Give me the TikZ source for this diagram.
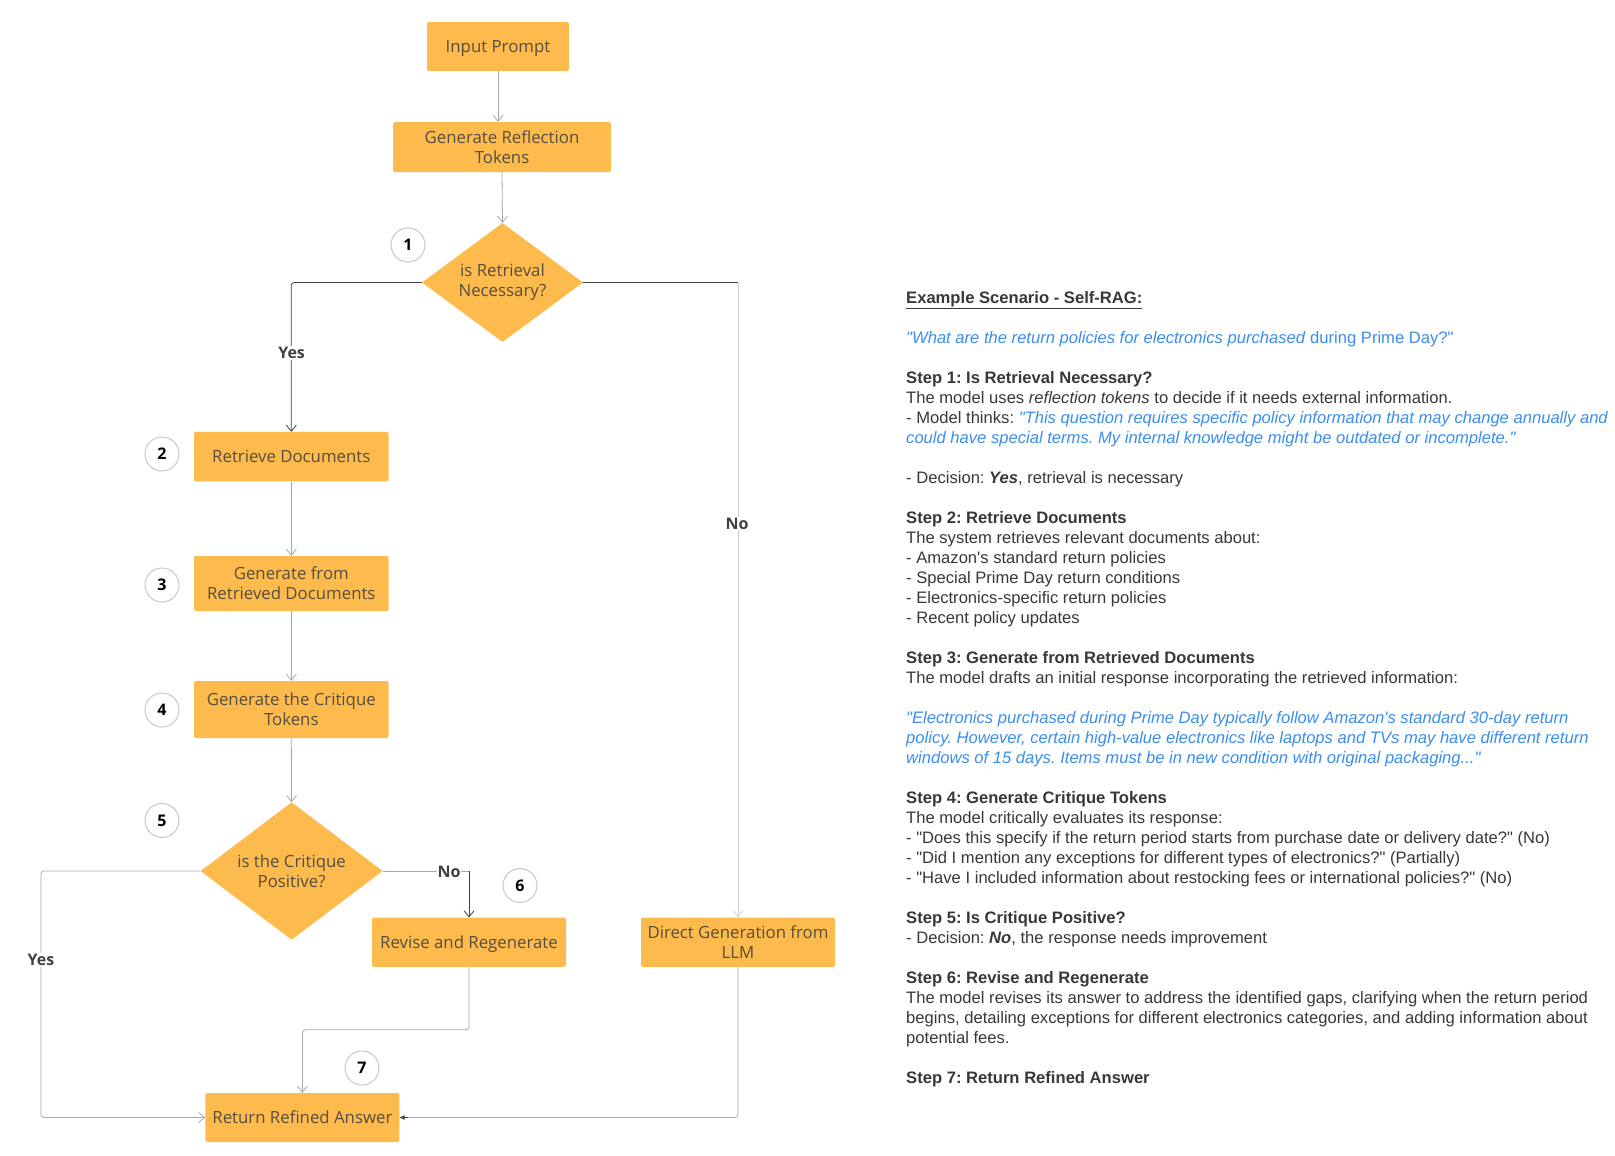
\documentclass[tikz,border=0pt]{standalone}
\usepackage{fontspec}
\setmainfont{Liberation Sans}[Ligatures=TeXOff]
\newfontfamily\flowfont{Open Sans}
\usetikzlibrary{shapes.geometric,arrows.meta}
\definecolor{boxorange}{HTML}{FDBB4E}
\definecolor{boxtext}{HTML}{574D3C}
\definecolor{linegray}{HTML}{A8A8A8}
\definecolor{lightline}{HTML}{D0D0D0}
\definecolor{linedark}{HTML}{404040}
\definecolor{numgray}{HTML}{C8C8C8}
\definecolor{quoteblue}{HTML}{3B8EEA}
\definecolor{bodytext}{HTML}{383838}
\frenchspacing
\begin{document}
\begin{tikzpicture}[x=1pt,y=-1pt,
  proc/.style={rectangle, rounded corners=2pt, fill=boxorange, text=boxtext,
    font=\flowfont\fontsize{16.8}{20}\selectfont, align=center, inner sep=0pt},
  oneline/.style={text height=11.5pt, text depth=0pt},
  decision/.style={diamond, fill=boxorange, inner sep=0pt},
  dtext/.style={text=boxtext, font=\flowfont\fontsize{16.8}{20}\selectfont, align=center, inner sep=0pt},
  num/.style={circle, draw=numgray, fill=white, line width=1pt, minimum size=34pt, inner sep=0pt,
    font=\flowfont\bfseries\fontsize{16}{16}\selectfont},
  lbl/.style={fill=white, inner sep=1pt, text=linedark, font=\flowfont\bfseries\fontsize{16}{16}\selectfont},
  conn/.style={draw=linegray, line width=0.8pt, rounded corners=3pt},
  tip/.style={-{Straight Barb[length=6pt,width=10pt]}},
  filltip/.style={-{Latex[length=5pt,width=5pt]}}
]
\fill[white] (0,0) rectangle (1615,1156);
\useasboundingbox (0,0) rectangle (1615,1156);

% process boxes
\node[proc, oneline, minimum width=142pt, minimum height=49pt] (ip) at (498,46.5) {Input Prompt};
\node[proc, minimum width=218pt, minimum height=50pt] (grt) at (502,147) {Generate Reflection\\Tokens};
\node[decision, minimum width=161pt, minimum height=119pt] (d1) at (502.5,282.5) {};
\node[dtext] (d1t) at (d1) {is Retrieval\\Necessary?};
\node[proc, oneline, minimum width=194.6pt, minimum height=49.5pt] (rd) at (291.3,456.7) {Retrieve Documents};
\node[proc, minimum width=194.6pt, minimum height=55pt] (gfr) at (291.3,583.5) {Generate from\\Retrieved Documents};
\node[proc, minimum width=194.6pt, minimum height=57pt] (gct) at (291.3,709.5) {Generate the Critique\\Tokens};
\node[decision, minimum width=182pt, minimum height=137.5pt] (d2) at (291.6,871) {};
\node[dtext] (d2t) at (d2) {is the Critique\\Positive?};
\node[proc, oneline, minimum width=194pt, minimum height=49.3pt] (rr) at (469,942.3) {Revise and Regenerate};
\node[proc, minimum width=194pt, minimum height=49.3pt] (dg) at (738,942.3) {Direct Generation from\\LLM};
\node[proc, oneline, minimum width=194pt, minimum height=49pt] (rra) at (302.4,1117.5) {Return Refined Answer};

% number circles
\node[num] (n1) at (408,245) {1};
\node[num] (n2) at (162,454) {2};
\node[num] (n3) at (162,585) {3};
\node[num] (n4) at (162,710) {4};
\node[num] (n5) at (162,820.5) {5};
\node[num] (n6) at (520,885.5) {6};
\node[num] (n7) at (362,1068) {7};

% helper coordinates
\coordinate (c1r) at (dg.north |- d1.east);
\coordinate (c2l) at (41,871);
\coordinate (c2b) at (41,1117.5);
\coordinate (c6) at (rr.north |- d2.east);
\coordinate (c7a) at (469,1029.8);
\coordinate (c7b) at (302.4,1029.8);
\coordinate (cdg) at (dg.south |- rra.east);

% connectors
\draw[conn, tip] (ip.south) -- (ip.south |- grt.north);
\draw[conn, tip] (grt.south) -- (d1.north);
\draw[conn, draw=linedark, tip] (d1.west) -| (rd.north);
\draw[conn, draw=linedark] (d1.east) -- (c1r);
\draw[conn, draw=lightline, tip] (c1r) -- (dg.north);
\draw[conn, tip] (rd.south) -- (gfr.north);
\draw[conn, tip] (gfr.south) -- (gct.north);
\draw[conn, tip] (gct.south) -- (d2.north);
\draw[conn, tip] (d2.west) -- (c2l) -- (c2b) -- (rra.west);
\draw[conn] (d2.east) -- (c6);
\draw[conn, draw=linedark, tip] (c6) -- (rr.north);
\draw[conn, tip] (rr.south) -- (c7a) -- (c7b) -- (rra.north);
\draw[conn] (dg.south) -- (cdg) -- (rra.east);
\draw[draw=linedark, line width=0.8pt, filltip] ([xshift=8pt]rra.east) -- (rra.east);

% branch labels
\node[lbl] (y1) at (291.6,353) {Yes};
\node[lbl] (no1) at (737,523.5) {No};
\node[lbl] (no2) at (449,871.6) {No};
\node[lbl] (y2) at (41,960) {Yes};

% right-hand text
\node[anchor=north west, align=left, inner sep=0pt, text=bodytext,
  font=\fontsize{16.6}{20}\selectfont] (txt) at (906,291.5) {%
\underline{\textbf{Example Scenario - Self-RAG:}}\\[20pt]
{\color{quoteblue}\textit{"What are the return policies for electronics purchased} during Prime Day?"}\\[20pt]
\textbf{Step 1: Is Retrieval Necessary?}\\
The model uses \textit{reflection tokens} to decide if it needs external information.\\
- Model thinks: {\color{quoteblue}\textit{"This question requires specific policy information that may change annually and}}\\
{\color{quoteblue}\textit{could have special terms. My internal knowledge might be outdated or incomplete."}}\\[20pt]
- Decision: \textbf{\textit{Yes}}, retrieval is necessary\\[20pt]
\textbf{Step 2: Retrieve Documents}\\
The system retrieves relevant documents about:\\
- Amazon's standard return policies\\
- Special Prime Day return conditions\\
- Electronics-specific return policies\\
- Recent policy updates\\[20pt]
\textbf{Step 3: Generate from Retrieved Documents}\\
The model drafts an initial response incorporating the retrieved information:\\[20pt]
{\color{quoteblue}\textit{"Electronics purchased during Prime Day typically follow Amazon's standard 30-day return}}\\
{\color{quoteblue}\textit{policy. However, certain high-value electronics like laptops and TVs may have different return}}\\
{\color{quoteblue}\textit{windows of 15 days. Items must be in new condition with original packaging..."}}\\[20pt]
\textbf{Step 4: Generate Critique Tokens}\\
The model critically evaluates its response:\\
- "Does this specify if the return period starts from purchase date or delivery date?" (No)\\
- "Did I mention any exceptions for different types of electronics?" (Partially)\\
- "Have I included information about restocking fees or international policies?" (No)\\[20pt]
\textbf{Step 5: Is Critique Positive?}\\
- Decision: \textbf{\textit{No}}, the response needs improvement\\[20pt]
\textbf{Step 6: Revise and Regenerate}\\
The model revises its answer to address the identified gaps, clarifying when the return period\\
begins, detailing exceptions for different electronics categories, and adding information about\\
potential fees.\\[20pt]
\textbf{Step 7: Return Refined Answer}};
\end{tikzpicture}
\end{document}
